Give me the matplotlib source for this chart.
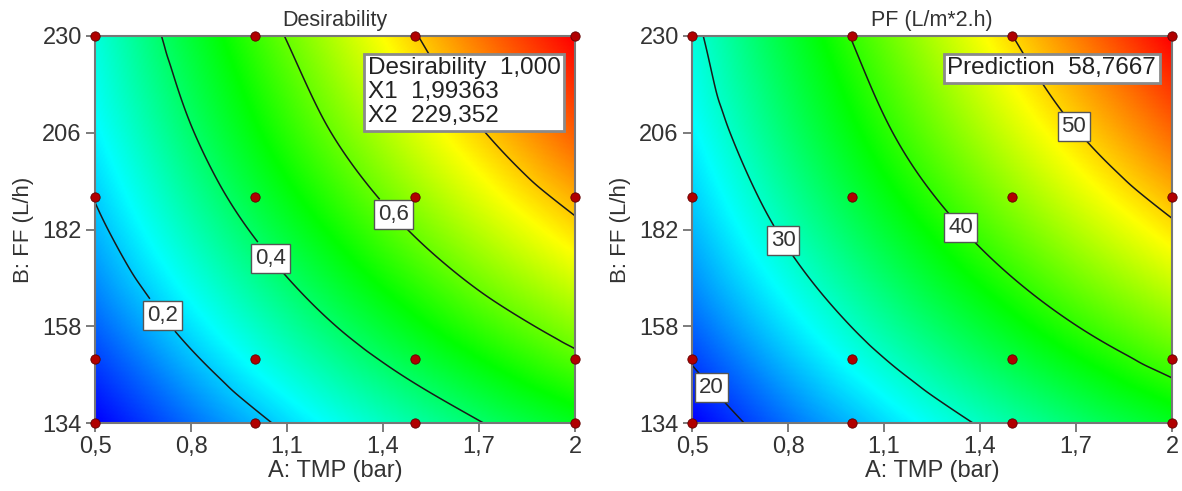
import numpy as np
import matplotlib
matplotlib.use('Agg')
import matplotlib.pyplot as plt
import matplotlib.tri as mtri
from matplotlib.colors import LinearSegmentedColormap

plt.rcParams['font.family'] = ['Liberation Sans', 'DejaVu Sans']

# grid (rows = FF, columns = TMP)
tmp = [0.5, 0.8, 1.1, 1.4, 1.7, 2.0]
ff = [134, 158, 182, 206, 230]
pf = [[17.47, 22.14, 26.41, 30.27, 33.73, 36.79],
      [21.66, 26.83, 31.61, 35.97, 39.94, 43.50],
      [25.01, 30.69, 35.97, 40.84, 45.31, 49.37],
      [27.53, 33.71, 39.49, 44.87, 49.84, 54.41],
      [29.21, 35.90, 42.19, 48.07, 53.55, 58.77]]
desirability = [[0.000, 0.111, 0.216, 0.311, 0.396, 0.471],
                [0.099, 0.226, 0.344, 0.451, 0.549, 0.636],
                [0.181, 0.321, 0.451, 0.571, 0.681, 0.781],
                [0.243, 0.395, 0.538, 0.670, 0.792, 0.905],
                [0.285, 0.449, 0.604, 0.749, 0.883, 1.000]]

# design points
design_tmp = [0.5, 1.0, 1.5, 2.0]
design_ff = [134, 150, 190, 230]

des_levels = [0.2, 0.4, 0.6, 0.8]
des_labeled = [0.2, 0.4, 0.6]
des_label_pos = [(0.73, 162), (1.05, 175), (1.45, 187)]
pf_levels = [20, 30, 40, 50]
pf_label_pos = [(0.58, 144), (0.82, 181), (1.36, 184), (1.70, 208)]

xticks = [0.5, 0.8, 1.1, 1.4, 1.7, 2.0]
xticklabels = ['0,5', '0,8', '1,1', '1,4', '1,7', '2']
yticks = [134, 158, 182, 206, 230]

cmap = LinearSegmentedColormap.from_list(
    'dx', ['#0000ff', '#00ffff', '#00ff00', '#ffff00', '#ff0000'])
txt = '#333333'


def surface(z):
    gx, gy = np.meshgrid(tmp, ff)
    u = (gx.ravel() - 0.5) / 1.5
    v = (gy.ravel() - 134) / 96.0
    tri = mtri.Triangulation(u, v)
    interp = mtri.CubicTriInterpolator(tri, np.ravel(z), kind='geom')
    xi = np.linspace(0.5, 2.0, 300)
    yi = np.linspace(134, 230, 300)
    XI, YI = np.meshgrid(xi, yi)
    ZI = interp((XI - 0.5) / 1.5, (YI - 134) / 96.0)
    return XI, YI, np.asarray(ZI)


def panel(ax, z, levels, labeled, label_pos, fmt, title, box_text, box_x):
    XI, YI, ZI = surface(z)
    ax.imshow(ZI, extent=(0.5, 2.0, 134, 230), origin='lower', aspect='auto',
              cmap=cmap, interpolation='bilinear')
    cs = ax.contour(XI, YI, ZI, levels=levels, colors='#1a1a1a', linewidths=1.1)
    texts = ax.clabel(cs, labeled, inline=True, fmt=fmt, fontsize=16,
                      manual=label_pos, colors='#333333')
    for t in texts:
        t.set_rotation(0)
        t.set_bbox(dict(boxstyle='square,pad=0.18', fc='white', ec='#555555', lw=1))
    dx, dy = np.meshgrid(design_tmp, design_ff)
    ax.scatter(dx.ravel(), dy.ravel(), s=45, c='#b00000', edgecolors='#600000',
               linewidths=0.6, zorder=6, clip_on=False)
    ax.set_xlim(0.5, 2.0)
    ax.set_ylim(134, 230)
    ax.set_xticks(xticks)
    ax.set_xticklabels(xticklabels)
    ax.set_yticks(yticks)
    ax.set_yticklabels([str(t) for t in yticks])
    ax.tick_params(direction='out', length=6.5, width=1.2, color='#666666',
                   labelsize=17, labelcolor=txt, pad=3)
    for s in ax.spines.values():
        s.set_color('#777777')
        s.set_linewidth(1.5)
    ax.set_xlabel('A: TMP (bar)', fontsize=17, color=txt, labelpad=1)
    ax.set_ylabel('B: FF (L/h)', fontsize=16, color=txt, labelpad=6)
    ax.set_title(title, fontsize=15.5, color=txt, pad=7)
    ax.text(box_x, 0.945, box_text, transform=ax.transAxes, ha='left', va='top',
            fontsize=17.5, color='#222222', linespacing=1.12, zorder=7,
            bbox=dict(boxstyle='square,pad=0.14', fc='white', ec='#8a8a8a', lw=2))


fig = plt.figure(figsize=(11.82, 4.91), dpi=100)
ax1 = fig.add_axes([95 / 1182, 68 / 491, 480 / 1182, 387 / 491])
ax2 = fig.add_axes([692 / 1182, 68 / 491, 480 / 1182, 387 / 491])

panel(ax1, desirability, des_levels, des_labeled, des_label_pos,
      lambda v: f'{v:.1f}'.replace('.', ','), 'Desirability',
      'Desirability  1,000\nX1  1,99363\nX2  229,352', 0.568)
panel(ax2, pf, pf_levels, pf_levels, pf_label_pos,
      lambda v: f'{v:.0f}', 'PF (L/m*2.h)',
      'Prediction  58,7667', 0.532)

fig.savefig('out.png', dpi=100)
